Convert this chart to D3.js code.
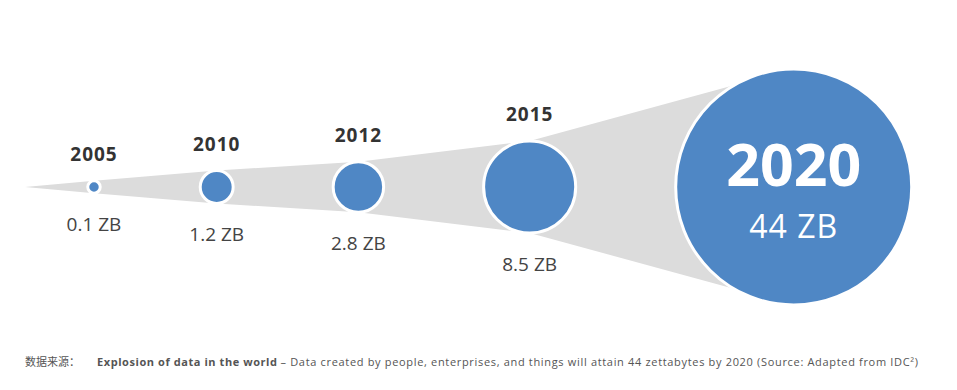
<!DOCTYPE html>
<html>
<head>
<meta charset="utf-8">
<script src="https://cdn.jsdelivr.net/npm/d3@7"></script>
<style>
  body { margin: 0; background: #fff; }
  svg { display: block; }
</style>
</head>
<body>
<svg id="chart" style="width:957px;height:390px"></svg>
<script>
// data
var years = ['2005', '2010', '2012', '2015', '2020'];
var volumes = [0.1, 1.2, 2.8, 8.5, 44];
var unit = 'ZB';
var sourceLabel = '数据来源：';
var sourceTitle = 'Explosion of data in the world';
var sourceText = ' – Data created by people, enterprises, and things will attain 44 zettabytes by 2020 (Source: Adapted from IDC²)';

d3.select(window).on('load', init);

function init() {
    var svg = d3.select('#chart');
    var cy = 187;
    var firstX = 94;
    var gap = 100;   // white space between neighbouring circles
    var tipX = 25;

    var blue = '#4f87c5';
    var grey = '#dcdcdc';

    // not a true area scale in the original, pow 0.6 is close enough
    var rScale = d3.scalePow()
        .exponent(0.6)
        .domain([0, d3.max(volumes)])
        .range([3.25, 118]);

    var nodes = [];
    var x = firstX;
    volumes.forEach(function(v, i) {
        var r = rScale(v);
        if (i > 0) x += nodes[i - 1].r + gap + r;
        nodes.push({year: years[i], value: v, r: r, x: x});
    });

    // grey cone behind the circles
    var cone = [{x: tipX, r: 0}].concat(nodes);
    var area = d3.area()
        .x(function(d) { return d.x; })
        .y0(function(d) { return cy + d.r; })
        .y1(function(d) { return cy - d.r; });

    svg.append('path')
        .attr('d', area(cone))
        .attr('fill', grey);

    svg.selectAll('circle.bubble')
        .data(nodes)
        .enter()
        .append('circle')
        .attr('class', 'bubble')
        .attr('cx', function(d) { return d.x; })
        .attr('cy', cy)
        .attr('r', function(d) { return d.r; })
        .attr('fill', blue)
        .attr('stroke', '#fff')
        .attr('stroke-width', 3);

    var small = nodes.slice(0, nodes.length - 1);
    var big = nodes[nodes.length - 1];

    svg.selectAll('text.year')
        .data(small)
        .enter()
        .append('text')
        .attr('class', 'year')
        .attr('x', function(d) { return d.x; })
        .attr('y', function(d) { return cy - d.r - 20; })
        .attr('text-anchor', 'middle')
        .style('font-family', '"Open Sans", sans-serif')
        .style('font-weight', 700)
        .style('font-size', '19px')
        .style('letter-spacing', '1px')
        .style('fill', '#333')
        .text(function(d) { return d.year; });

    svg.selectAll('text.value')
        .data(small)
        .enter()
        .append('text')
        .attr('class', 'value')
        .attr('x', function(d) { return d.x; })
        .attr('y', function(d) { return cy + d.r + 38; })
        .attr('text-anchor', 'middle')
        .style('font-family', '"Open Sans", sans-serif')
        .style('font-size', '19px')
        .style('fill', '#444')
        .text(function(d) { return d.value + ' ' + unit; });

    // last one is labelled inside
    svg.append('text')
        .attr('x', big.x)
        .attr('y', cy - 1)
        .attr('text-anchor', 'middle')
        .style('font-family', '"Open Sans", sans-serif')
        .style('font-weight', 700)
        .style('font-size', '59px')
        .style('fill', '#fff')
        .text(big.year);

    svg.append('text')
        .attr('x', big.x)
        .attr('y', cy + 51)
        .attr('text-anchor', 'middle')
        .style('font-family', '"Open Sans", sans-serif')
        .style('font-size', '32px')
        .style('letter-spacing', '1px')
        .style('fill', '#fff')
        .text(big.value + ' ' + unit);

    // source line at the bottom
    var cap = svg.append('text')
        .attr('y', 366)
        .style('font-size', '11px')
        .style('fill', '#555');
    cap.append('tspan')
        .attr('x', 25)
        .style('font-family', '"Noto Sans CJK SC", sans-serif')
        .text(sourceLabel);
    cap.append('tspan')
        .attr('x', 97)
        .attr('textLength', 180)
        .style('font-family', '"Open Sans", sans-serif')
        .style('font-weight', 700)
        .text(sourceTitle);
    cap.append('tspan')
        .attr('x', 277)
        .attr('textLength', 641)
        .style('font-family', '"Open Sans", sans-serif')
        .text(sourceText);
}
</script>
</body>
</html>
